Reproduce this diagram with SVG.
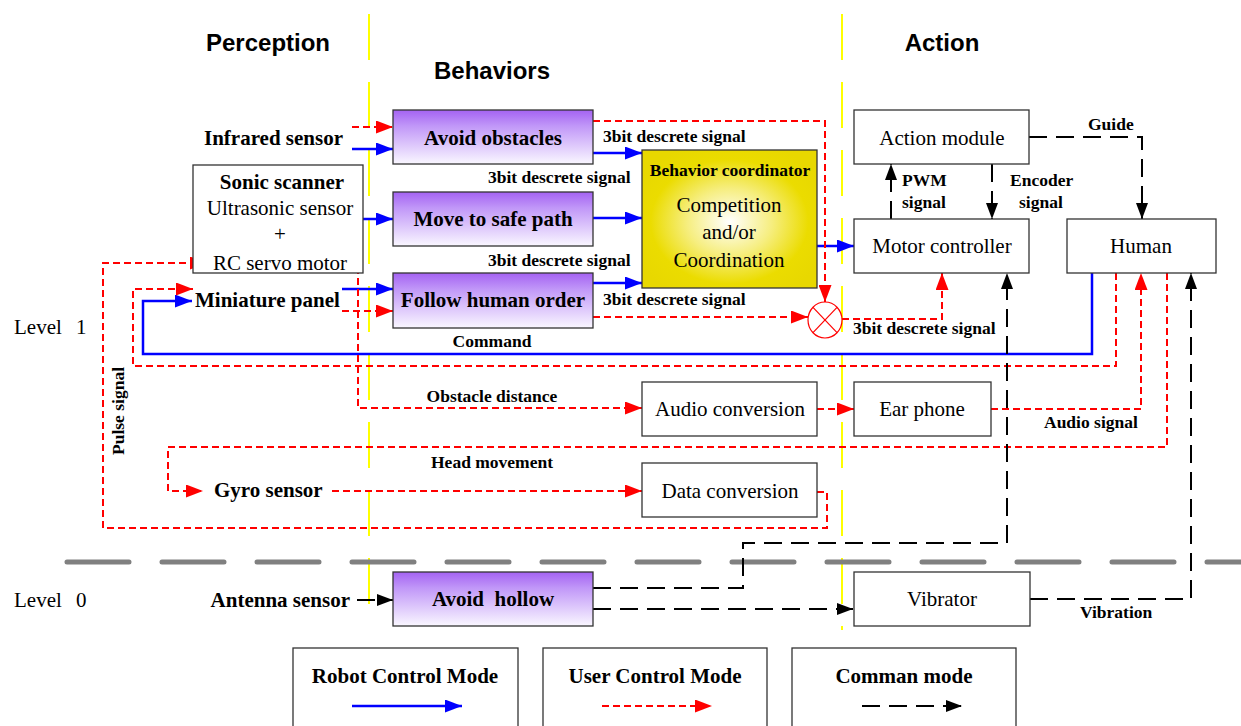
<svg xmlns="http://www.w3.org/2000/svg" width="1241" height="726" viewBox="0 0 1241 726">
<style>
.hdr{font-family:"Liberation Sans",Arial,sans-serif;font-weight:bold;font-size:24px;fill:#000;text-anchor:middle}
.lb{font-family:"Liberation Serif","Times New Roman",serif;font-weight:bold;font-size:21px;fill:#000}
.nm{font-family:"Liberation Serif","Times New Roman",serif;font-size:21px;fill:#000}
.sm{font-family:"Liberation Serif","Times New Roman",serif;font-weight:bold;font-size:17.5px;fill:#000}
.c{text-anchor:middle}
.e{text-anchor:end}
.box{fill:#fff;stroke:#333;stroke-width:1.3}
.beh{fill:url(#purple);stroke:#333;stroke-width:1.3}
.blue{fill:none;stroke:#0000FF;stroke-width:2.5;marker-end:url(#ab)}
.red{fill:none;stroke:#FF0000;stroke-width:2;stroke-dasharray:7,4;marker-end:url(#ar)}
.blk{fill:none;stroke:#000;stroke-width:2;stroke-dasharray:18,9;marker-end:url(#ak)}
.yel{stroke:#FFFF00;stroke-width:2;stroke-dasharray:46,22}
</style>
<defs>
<linearGradient id="purple" x1="0" y1="0" x2="0" y2="1">
<stop offset="0" stop-color="#A462F2"/>
<stop offset="0.3" stop-color="#C198F8"/>
<stop offset="1" stop-color="#FAF7FF"/>
</linearGradient>
<radialGradient id="coord" cx="0.5" cy="0.52" r="0.6">
<stop offset="0" stop-color="#FFFFFF"/>
<stop offset="0.4" stop-color="#F6EE80"/>
<stop offset="0.75" stop-color="#EBDC00"/>
<stop offset="1" stop-color="#E8D800"/>
</radialGradient>
<marker id="ab" markerUnits="userSpaceOnUse" viewBox="0 0 17 13" refX="17" refY="6.5" markerWidth="17" markerHeight="13" orient="auto"><path d="M0,0 L17,6.5 L0,13 z" fill="#0000FF"/></marker>
<marker id="ar" markerUnits="userSpaceOnUse" viewBox="0 0 17 13" refX="17" refY="6.5" markerWidth="17" markerHeight="13" orient="auto"><path d="M0,0 L17,6.5 L0,13 z" fill="#FF0000"/></marker>
<marker id="ak" markerUnits="userSpaceOnUse" viewBox="0 0 16 12" refX="16" refY="6" markerWidth="16" markerHeight="12" orient="auto"><path d="M0,0 L16,6 L0,12 z" fill="#000"/></marker>
</defs>
<rect width="1241" height="726" fill="#fff"/>

<!-- separators -->
<g id="separators">
<line x1="369" y1="14" x2="369" y2="626" class="yel"/>
<line x1="842" y1="14" x2="842" y2="630" class="yel"/>
<line x1="67" y1="562" x2="1241" y2="562" stroke="#808080" stroke-width="5" stroke-linecap="round" stroke-dasharray="62,33"/>
</g>

<!-- headings -->
<g id="headings">
<text class="hdr" x="268" y="51">Perception</text>
<text class="hdr" x="492" y="79">Behaviors</text>
<text class="hdr" x="942" y="51">Action</text>
<text class="nm" x="14" y="334" font-size="20">Level<tspan x="76">1</tspan></text>
<text class="nm" x="14" y="607" font-size="20">Level<tspan x="76">0</tspan></text>
</g>

<!-- connectors -->
<g id="connectors">
<path class="blue" d="M352,149 H393"/>
<path class="blue" d="M352,219 H393"/>
<path class="blue" d="M342,289 H393"/>
<path class="blue" d="M593,153 H642"/>
<path class="blue" d="M593,218 H642"/>
<path class="blue" d="M593,283 H642"/>
<path class="blue" d="M817,246 H854"/>
<path class="blue" d="M1092,273 V354 H143 V301 H192"/>

<path class="red" d="M352,127 H393"/>
<path class="red" d="M342,311 H393"/>
<path class="red" d="M593,121 H825 V302"/>
<path class="red" d="M593,317 H808"/>
<path class="red" d="M842,319 H942 V273"/>
<path class="red" d="M1116,273 V366 H133 V289 H193"/>
<path class="red" d="M358,223 V408 H642"/>
<path class="red" d="M817,409 H854"/>
<path class="red" d="M991,409 H1141 V273"/>
<path class="red" d="M1167,273 V447 H168 V491 H203"/>
<path class="red" d="M332,491 H642"/>
<path class="red" d="M817,492 H827 V528 H103 V263 H207"/>

<path class="blk" d="M357,600 H393"/>
<path class="blk" d="M593,588 H743 V543 H1007 V273"/>
<path class="blk" d="M593,609 H853"/>
<path class="blk" d="M1030,599 H1191 V273"/>
<path class="blk" d="M891,219 V164"/>
<path class="blk" d="M992,164 V219"/>
<path class="blk" d="M1029,137 H1142 V219"/>

<g id="mixer">
<ellipse cx="825" cy="320" rx="17" ry="18" fill="#fff" stroke="#FF0000" stroke-width="1.2"/>
<line x1="813" y1="307.3" x2="837" y2="332.7" stroke="#FF0000" stroke-width="1.2"/>
<line x1="837" y1="307.3" x2="813" y2="332.7" stroke="#FF0000" stroke-width="1.2"/>
</g>

<text class="sm" x="603" y="142">3bit descrete signal</text>
<text class="sm" x="488" y="183">3bit descrete signal</text>
<text class="sm" x="488" y="266">3bit descrete signal</text>
<text class="sm" x="603" y="305">3bit descrete signal</text>
<text class="sm" x="853" y="334">3bit descrete signal</text>
<text class="sm c" x="492" y="347">Command</text>
<text class="sm c" x="492" y="402">Obstacle distance</text>
<text class="sm c" x="492" y="468">Head movement</text>
<text class="sm" x="1044" y="428">Audio signal</text>
<text class="sm" x="1080" y="618">Vibration</text>
<text class="sm" x="1088" y="130">Guide</text>
<text class="sm" x="902" y="186">PWM</text>
<text class="sm" x="902" y="208">signal</text>
<text class="sm" x="1010" y="186">Encoder</text>
<text class="sm" x="1019" y="208">signal</text>
<text class="sm c" transform="translate(124,411) rotate(-90)" font-size="18">Pulse signal</text>
</g>

<!-- perception nodes -->
<g id="infrared"><text class="lb e" x="343" y="145">Infrared sensor</text></g>
<g id="sonic">
<rect class="box" x="193" y="165" width="170" height="108"/>
<text class="lb c" x="282" y="189">Sonic scanner</text>
<text class="nm c" x="280" y="215">Ultrasonic sensor</text>
<text class="nm c" x="280" y="241">+</text>
<text class="nm c" x="280" y="270">RC servo motor</text>
</g>
<g id="miniature"><text class="lb" x="195" y="307">Miniature panel</text></g>
<g id="gyro"><text class="lb" x="214" y="497">Gyro sensor</text></g>
<g id="antenna"><text class="lb e" x="350" y="607">Antenna sensor</text></g>

<!-- behaviors -->
<g id="avoid-obstacles"><rect class="beh" x="393" y="110" width="200" height="54"/><text class="lb c" x="493" y="145">Avoid obstacles</text></g>
<g id="move-safe"><rect class="beh" x="393" y="192" width="200" height="54"/><text class="lb c" x="493" y="226">Move to safe path</text></g>
<g id="follow-human"><rect class="beh" x="393" y="273" width="200" height="55"/><text class="lb c" x="493" y="307">Follow human order</text></g>
<g id="avoid-hollow"><rect class="beh" x="393" y="572" width="200" height="54"/><text class="lb c" x="493" y="606" xml:space="preserve">Avoid  hollow</text></g>

<g id="coordinator">
<rect x="642" y="150" width="175" height="138" fill="url(#coord)" stroke="#333" stroke-width="1.3"/>
<text class="sm c" x="730" y="176">Behavior coordinator</text>
<text class="nm c" x="729" y="212">Competition</text>
<text class="nm c" x="729" y="239">and/or</text>
<text class="nm c" x="729" y="267">Coordination</text>
</g>

<g id="audio-conv"><rect class="box" x="642" y="382" width="175" height="54"/><text class="nm c" x="730" y="416">Audio conversion</text></g>
<g id="data-conv"><rect class="box" x="642" y="463" width="175" height="54"/><text class="nm c" x="730" y="498">Data conversion</text></g>

<!-- action -->
<g id="action-module"><rect class="box" x="854" y="110" width="175" height="54"/><text class="nm c" x="942" y="145">Action module</text></g>
<g id="motor-controller"><rect class="box" x="854" y="219" width="175" height="54"/><text class="nm c" x="942" y="253">Motor controller</text></g>
<g id="human"><rect class="box" x="1067" y="219" width="149" height="54"/><text class="nm c" x="1141" y="253">Human</text></g>
<g id="ear-phone"><rect class="box" x="854" y="382" width="137" height="54"/><text class="nm c" x="922" y="416">Ear phone</text></g>
<g id="vibrator"><rect class="box" x="854" y="572" width="176" height="54"/><text class="nm c" x="942" y="606">Vibrator</text></g>

<!-- legend -->
<g id="legend-robot">
<rect class="box" x="293" y="648" width="225" height="90"/>
<text class="lb c" x="405" y="683">Robot Control Mode</text>
<path class="blue" d="M352,706 H462"/>
</g>
<g id="legend-user">
<rect class="box" x="543" y="648" width="224" height="90"/>
<text class="lb c" x="655" y="683">User Control Mode</text>
<path class="red" d="M602,706 H712"/>
</g>
<g id="legend-common">
<rect class="box" x="792" y="648" width="224" height="90"/>
<text class="lb c" x="904" y="683">Comman mode</text>
<path class="blk" d="M862,706 H962"/>
</g>
</svg>
